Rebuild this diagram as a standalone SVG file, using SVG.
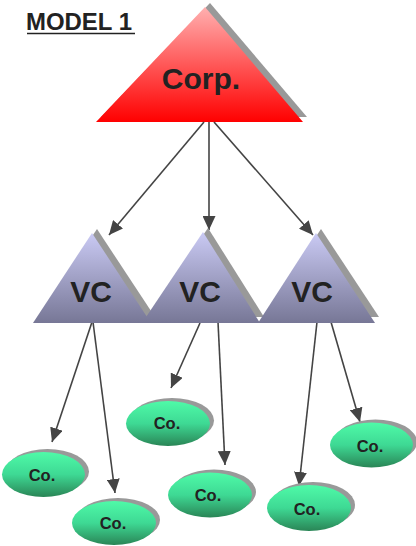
<svg xmlns="http://www.w3.org/2000/svg" width="416" height="546" viewBox="0 0 416 546">
<defs>
<linearGradient id="gRed" x1="0" y1="0" x2="0" y2="1">
<stop offset="0" stop-color="#FFB0B0"/>
<stop offset="1" stop-color="#FF0000"/>
</linearGradient>
<linearGradient id="gVC" x1="0" y1="0" x2="0" y2="1">
<stop offset="0" stop-color="#CACAF4"/>
<stop offset="1" stop-color="#777796"/>
</linearGradient>
<linearGradient id="gCo" x1="0" y1="0" x2="0" y2="1">
<stop offset="0" stop-color="#4FFAA8"/>
<stop offset="0.5" stop-color="#3ED994"/>
<stop offset="1" stop-color="#2A8556"/>
</linearGradient>
<marker id="arr" markerUnits="userSpaceOnUse" markerWidth="14" markerHeight="13" refX="14" refY="6.5" orient="auto">
<path d="M0,0 L14,6.5 L0,13 z" fill="#444"/>
</marker>
<style>
.lbl{font-family:"Liberation Sans",Arial,sans-serif;font-weight:bold;fill:#222;text-anchor:middle}
.shadow{fill:#999}
.con{stroke:#444;stroke-width:1.6;fill:none;marker-end:url(#arr)}
.co{fill:url(#gCo)}
.vc{fill:url(#gVC)}
</style>
</defs>

<g id="title">
<text x="26" y="30" font-family="Liberation Sans, Arial, sans-serif" font-weight="bold" font-size="23" fill="#222" textLength="106" lengthAdjust="spacingAndGlyphs">MODEL 1</text>
<line x1="27" y1="33.5" x2="135" y2="33.5" stroke="#222" stroke-width="1.6"/>
</g>

<g id="corp">
<polygon class="shadow" points="210,3 307,117 101,117"/>
<polygon fill="url(#gRed)" points="205,7 303,122 96,122"/>
<text class="lbl" x="201" y="89" font-size="30">Corp.</text>
</g>

<g id="connectors">
<line class="con" x1="204" y1="122" x2="109" y2="235"/>
<line class="con" x1="209" y1="122" x2="209" y2="230"/>
<line class="con" x1="214" y1="122" x2="313" y2="235"/>
<line class="con" x1="92" y1="322" x2="52" y2="442"/>
<line class="con" x1="93" y1="322" x2="115" y2="493"/>
<line class="con" x1="200" y1="323" x2="171" y2="388"/>
<line class="con" x1="218" y1="322" x2="225" y2="465"/>
<line class="con" x1="317" y1="322" x2="299" y2="486"/>
<line class="con" x1="331" y1="322" x2="360" y2="422"/>
</g>

<g id="vc1">
<polygon class="shadow" points="97,229 155,317 38,317"/>
<polygon class="vc" points="92,233 151,323 33,323"/>
<text class="lbl" x="91" y="302" font-size="30">VC</text>
</g>
<g id="vc2">
<polygon class="shadow" points="208,228 264,317 147,317"/>
<polygon class="vc" points="203,232 260,323 142,323"/>
<text class="lbl" x="200" y="302" font-size="30">VC</text>
</g>
<g id="vc3">
<polygon class="shadow" points="321,229 379,317 263,317"/>
<polygon class="vc" points="316,233 375,323 258,323"/>
<text class="lbl" x="312" y="302" font-size="30">VC</text>
</g>

<g id="coA">
<ellipse class="shadow" cx="47.5" cy="471.5" rx="41.5" ry="22.5"/>
<ellipse class="co" cx="43.5" cy="474.5" rx="41.5" ry="22.5"/>
<text class="lbl" x="42" y="481" font-size="16.5">Co.</text>
</g>
<g id="coB">
<ellipse class="shadow" cx="172" cy="420.5" rx="42" ry="22.5"/>
<ellipse class="co" cx="168" cy="423.5" rx="42" ry="22.5"/>
<text class="lbl" x="167" y="429" font-size="16.5">Co.</text>
</g>
<g id="coC">
<ellipse class="shadow" cx="118" cy="520" rx="42" ry="22"/>
<ellipse class="co" cx="114" cy="523" rx="42" ry="22"/>
<text class="lbl" x="113" y="529" font-size="16.5">Co.</text>
</g>
<g id="coD">
<ellipse class="shadow" cx="214" cy="492" rx="42" ry="22.5"/>
<ellipse class="co" cx="210" cy="495" rx="42" ry="22.5"/>
<text class="lbl" x="208" y="501" font-size="16.5">Co.</text>
</g>
<g id="coE">
<ellipse class="shadow" cx="313" cy="505" rx="42" ry="23"/>
<ellipse class="co" cx="309" cy="508" rx="42" ry="23"/>
<text class="lbl" x="307" y="515" font-size="16.5">Co.</text>
</g>
<g id="coF">
<ellipse class="shadow" cx="375.5" cy="442" rx="41.5" ry="22.5"/>
<ellipse class="co" cx="371.5" cy="445" rx="41.5" ry="22.5"/>
<text class="lbl" x="370" y="452" font-size="16.5">Co.</text>
</g>
</svg>
